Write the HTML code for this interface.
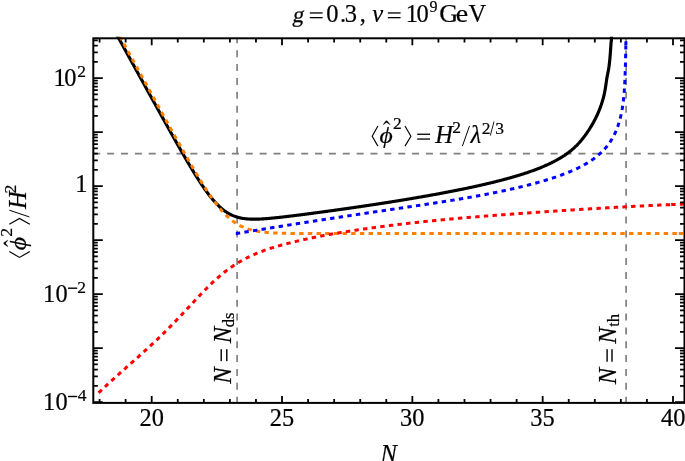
<!DOCTYPE html>
<html><head><meta charset="utf-8"><style>html,body{margin:0;padding:0;background:#fff;overflow:hidden}svg{display:block;will-change:transform}</style></head>
<body><svg width="685" height="461" viewBox="0 0 685 461">
<defs><clipPath id="cp"><rect x="93.3" y="36.699999999999996" width="591.2" height="366.2"/></clipPath></defs>
<rect width="685" height="461" fill="#fff"/>
<g clip-path="url(#cp)" fill="none">
<path d="M93.3,153.6H684.5" stroke="#808080" stroke-width="1.7" stroke-dasharray="7.0 6.86"/>
<path d="M237.1,403.7V38.3" stroke="#808080" stroke-width="1.7" stroke-dasharray="7.0 6.86"/>
<path d="M626.1,403.7V38.3" stroke="#808080" stroke-width="1.7" stroke-dasharray="7.0 6.86"/>
<path d="M112.60,27.09 L112.92,27.67 L113.25,28.26 L113.57,28.84 L113.89,29.42 L114.21,30.01 L114.53,30.59 L114.85,31.18 L115.18,31.76 L115.50,32.35 L115.82,32.93 L116.14,33.51 L116.46,34.10 L116.78,34.68 L117.10,35.27 L117.43,35.85 L117.75,36.44 L118.07,37.02 L118.39,37.60 L118.71,38.19 L119.03,38.77 L119.36,39.36 L119.68,39.94 L120.00,40.53 L120.32,41.11 L120.64,41.69 L120.96,42.28 L121.29,42.86 L121.61,43.45 L121.93,44.03 L122.25,44.62 L122.57,45.20 L122.89,45.78 L123.21,46.37 L123.54,46.95 L123.86,47.54 L124.18,48.12 L124.50,48.70 L124.82,49.29 L125.14,49.87 L125.47,50.46 L125.79,51.04 L126.11,51.63 L126.43,52.21 L126.75,52.79 L127.07,53.38 L127.39,53.96 L127.72,54.55 L128.04,55.13 L128.36,55.71 L128.68,56.30 L129.00,56.88 L129.32,57.47 L129.65,58.05 L129.97,58.63 L130.29,59.22 L130.61,59.80 L130.93,60.39 L131.25,60.97 L131.58,61.55 L131.90,62.14 L132.22,62.72 L132.54,63.31 L132.86,63.89 L133.18,64.47 L133.50,65.06 L133.83,65.64 L134.15,66.22 L134.47,66.81 L134.79,67.39 L135.11,67.98 L135.43,68.56 L135.76,69.14 L136.08,69.73 L136.40,70.31 L136.72,70.89 L137.04,71.48 L137.36,72.06 L137.69,72.65 L138.01,73.23 L138.33,73.81 L138.65,74.40 L138.97,74.98 L139.29,75.56 L139.61,76.15 L139.94,76.73 L140.26,77.31 L140.58,77.90 L140.90,78.48 L141.22,79.06 L141.54,79.65 L141.87,80.23 L142.19,80.81 L142.51,81.40 L142.83,81.98 L143.15,82.56 L143.47,83.15 L143.80,83.73 L144.12,84.31 L144.44,84.90 L144.76,85.48 L145.08,86.06 L145.40,86.65 L145.72,87.23 L146.05,87.81 L146.37,88.40 L146.69,88.98 L147.01,89.56 L147.33,90.14 L147.65,90.73 L147.98,91.31 L148.30,91.89 L148.62,92.47 L148.94,93.06 L149.26,93.64 L149.58,94.22 L149.91,94.80 L150.23,95.39 L150.55,95.97 L150.87,96.55 L151.19,97.13 L151.51,97.72 L151.83,98.30 L152.16,98.88 L152.48,99.46 L152.80,100.04 L153.12,100.63 L153.44,101.21 L153.76,101.79 L154.09,102.37 L154.41,102.95 L154.73,103.53 L155.05,104.11 L155.37,104.70 L155.69,105.28 L156.02,105.86 L156.34,106.44 L156.66,107.02 L156.98,107.60 L157.30,108.18 L157.62,108.76 L157.94,109.34 L158.27,109.92 L158.59,110.50 L158.91,111.09 L159.23,111.67 L159.55,112.25 L159.87,112.83 L160.20,113.41 L160.52,113.99 L160.84,114.57 L161.16,115.14 L161.48,115.72 L161.80,116.30 L162.13,116.88 L162.45,117.46 L162.77,118.04 L163.09,118.62 L163.41,119.20 L163.73,119.78 L164.05,120.36 L164.38,120.93 L164.70,121.51 L165.02,122.09 L165.34,122.67 L165.66,123.24 L165.98,123.82 L166.31,124.40 L166.63,124.98 L166.95,125.55 L167.27,126.13 L167.59,126.71 L167.91,127.28 L168.24,127.86 L168.56,128.43 L168.88,129.01 L169.20,129.58 L169.52,130.16 L169.84,130.74 L170.16,131.31 L170.49,131.88 L170.81,132.46 L171.13,133.03 L171.45,133.61 L171.77,134.18 L172.09,134.75 L172.42,135.33 L172.74,135.90 L173.06,136.47 L173.38,137.04 L173.70,137.61 L174.02,138.18 L174.35,138.76 L174.67,139.33 L174.99,139.90 L175.31,140.47 L175.63,141.04 L175.95,141.60 L176.27,142.17 L176.60,142.74 L176.92,143.31 L177.24,143.88 L177.56,144.44 L177.88,145.01 L178.20,145.58 L178.53,146.14 L178.85,146.71 L179.17,147.27 L179.49,147.84 L179.81,148.40 L180.13,148.96 L180.45,149.53 L180.78,150.09 L181.10,150.65 L181.42,151.21 L181.74,151.77 L182.06,152.33 L182.38,152.89 L182.71,153.45 L183.03,154.01 L183.35,154.57 L183.67,155.12 L183.99,155.68 L184.31,156.24 L184.64,156.79 L184.96,157.34 L185.28,157.90 L185.60,158.45 L185.92,159.00 L186.24,159.55 L186.56,160.10 L186.89,160.65 L187.21,161.20 L187.53,161.75 L187.85,162.29 L188.17,162.84 L188.49,163.38 L188.82,163.93 L189.14,164.47 L189.46,165.01 L189.78,165.55 L190.10,166.09 L190.42,166.63 L190.75,167.17 L191.07,167.70 L191.39,168.24 L191.71,168.77 L192.03,169.30 L192.35,169.84 L192.67,170.37 L193.00,170.90 L193.32,171.42 L193.64,171.95 L193.96,172.47 L194.28,173.00 L194.60,173.52 L194.93,174.04 L195.25,174.56 L195.57,175.08 L195.89,175.59 L196.21,176.11 L196.53,176.62 L196.86,177.13 L197.18,177.64 L197.50,178.15 L197.98,178.90 L198.46,179.66 L198.95,180.41 L199.43,181.15 L199.91,181.89 L200.39,182.63 L200.87,183.36 L201.36,184.09 L201.84,184.81 L202.32,185.53 L202.80,186.24 L203.29,186.95 L203.77,187.65 L204.25,188.34 L204.73,189.03 L205.22,189.71 L205.70,190.39 L206.18,191.06 L206.66,191.73 L207.15,192.38 L207.63,193.04 L208.11,193.68 L208.59,194.32 L209.08,194.95 L209.56,195.57 L210.04,196.19 L210.52,196.80 L211.00,197.40 L211.49,197.99 L211.97,198.58 L212.45,199.16 L212.93,199.73 L213.42,200.29 L213.90,200.84 L214.38,201.39 L214.86,201.93 L215.35,202.45 L215.83,202.97 L216.31,203.48 L216.79,203.99 L217.28,204.48 L217.76,204.96 L218.24,205.44 L218.72,205.91 L219.20,206.36 L219.69,206.81 L220.17,207.25 L220.65,207.68 L221.13,208.10 L221.62,208.51 L222.10,208.91 L222.58,209.31 L223.06,209.69 L223.55,210.06 L224.03,210.43 L224.67,210.90 L225.31,211.36 L225.96,211.80 L226.60,212.22 L227.24,212.63 L227.89,213.02 L228.53,213.40 L229.17,213.76 L229.82,214.11 L230.46,214.44 L231.10,214.76 L231.75,215.06 L232.39,215.35 L233.03,215.63 L233.68,215.89 L234.32,216.14 L234.96,216.38 L235.61,216.61 L236.25,216.82 L236.89,217.02 L237.53,217.21 L238.18,217.39 L238.82,217.55 L239.46,217.71 L240.11,217.86 L240.75,218.00 L241.39,218.13 L242.04,218.24 L242.68,218.36 L243.32,218.46 L243.97,218.55 L244.61,218.64 L245.25,218.72 L245.90,218.79 L246.54,218.85 L247.18,218.91 L247.83,218.96 L248.47,219.01 L249.11,219.05 L249.75,219.08 L250.40,219.11 L251.04,219.13 L251.68,219.15 L252.33,219.16 L252.97,219.17 L253.61,219.18 L254.26,219.18 L254.90,219.18 L255.54,219.17 L256.19,219.16 L256.83,219.14 L257.47,219.13 L258.12,219.11 L258.76,219.08 L259.40,219.06 L260.04,219.03 L260.69,219.00 L261.33,218.97 L261.97,218.93 L262.62,218.89 L263.26,218.85 L263.90,218.81 L264.55,218.77 L265.19,218.72 L265.83,218.67 L266.48,218.62 L267.12,218.57 L267.76,218.52 L268.41,218.47 L269.05,218.41 L269.69,218.35 L270.34,218.30 L270.98,218.24 L271.62,218.18 L272.26,218.12 L272.91,218.05 L273.55,217.99 L274.19,217.93 L274.84,217.86 L275.48,217.79 L276.12,217.73 L276.77,217.66 L277.41,217.59 L278.05,217.52 L278.70,217.45 L279.34,217.38 L279.98,217.31 L280.63,217.24 L281.27,217.17 L281.91,217.09 L282.56,217.02 L283.20,216.95 L283.84,216.87 L284.48,216.80 L285.13,216.72 L285.77,216.65 L286.41,216.57 L287.06,216.50 L287.70,216.42 L288.34,216.34 L288.99,216.26 L289.63,216.19 L290.27,216.11 L290.92,216.03 L291.56,215.95 L292.20,215.87 L292.85,215.79 L293.49,215.71 L294.13,215.63 L294.78,215.55 L295.42,215.47 L296.06,215.39 L296.70,215.31 L297.35,215.23 L297.99,215.15 L298.63,215.07 L299.28,214.99 L299.92,214.90 L300.56,214.82 L301.21,214.74 L301.85,214.66 L302.49,214.58 L303.14,214.49 L303.78,214.41 L304.42,214.33 L305.07,214.24 L305.71,214.16 L306.35,214.08 L306.99,213.99 L307.64,213.91 L308.28,213.82 L308.92,213.74 L309.57,213.66 L310.21,213.57 L310.85,213.49 L311.50,213.40 L312.14,213.32 L312.78,213.23 L313.43,213.15 L314.07,213.06 L314.71,212.98 L315.36,212.89 L316.00,212.80 L316.64,212.72 L317.29,212.63 L317.93,212.55 L318.57,212.46 L319.21,212.37 L319.86,212.29 L320.50,212.20 L321.14,212.11 L321.79,212.03 L322.43,211.94 L323.07,211.85 L323.72,211.76 L324.36,211.68 L325.00,211.59 L325.65,211.50 L326.29,211.41 L326.93,211.33 L327.58,211.24 L328.22,211.15 L328.86,211.06 L329.51,210.97 L330.15,210.89 L330.79,210.80 L331.43,210.71 L332.08,210.62 L332.72,210.53 L333.36,210.44 L334.01,210.35 L334.65,210.26 L335.29,210.17 L335.94,210.08 L336.58,209.99 L337.22,209.90 L337.87,209.81 L338.51,209.72 L339.15,209.63 L339.80,209.54 L340.44,209.45 L341.08,209.36 L341.73,209.27 L342.37,209.18 L343.01,209.09 L343.65,209.00 L344.30,208.91 L344.94,208.82 L345.58,208.72 L346.23,208.63 L346.87,208.54 L347.51,208.45 L348.16,208.36 L348.80,208.26 L349.44,208.17 L350.09,208.08 L350.73,207.99 L351.37,207.90 L352.02,207.80 L352.66,207.71 L353.30,207.62 L353.94,207.52 L354.59,207.43 L355.23,207.34 L355.87,207.24 L356.52,207.15 L357.16,207.06 L357.80,206.96 L358.45,206.87 L359.09,206.77 L359.73,206.68 L360.38,206.58 L361.02,206.49 L361.66,206.39 L362.31,206.30 L362.95,206.20 L363.59,206.11 L364.24,206.01 L364.88,205.92 L365.52,205.82 L366.16,205.73 L366.81,205.63 L367.45,205.53 L368.09,205.44 L368.74,205.34 L369.38,205.25 L370.02,205.15 L370.67,205.05 L371.31,204.95 L371.95,204.86 L372.60,204.76 L373.24,204.66 L373.88,204.56 L374.53,204.47 L375.17,204.37 L375.81,204.27 L376.46,204.17 L377.10,204.07 L377.74,203.98 L378.38,203.88 L379.03,203.78 L379.67,203.68 L380.31,203.58 L380.96,203.48 L381.60,203.38 L382.24,203.28 L382.89,203.18 L383.53,203.08 L384.17,202.98 L384.82,202.88 L385.46,202.78 L386.10,202.68 L386.75,202.58 L387.39,202.48 L388.03,202.38 L388.68,202.27 L389.32,202.17 L389.96,202.07 L390.60,201.97 L391.25,201.87 L391.89,201.77 L392.53,201.66 L393.18,201.56 L393.82,201.46 L394.46,201.35 L395.11,201.25 L395.75,201.15 L396.39,201.04 L397.04,200.94 L397.68,200.84 L398.32,200.73 L398.97,200.63 L399.61,200.52 L400.25,200.42 L400.89,200.31 L401.54,200.21 L402.18,200.10 L402.82,200.00 L403.47,199.89 L404.11,199.79 L404.75,199.68 L405.40,199.57 L406.04,199.47 L406.68,199.36 L407.33,199.25 L407.97,199.15 L408.61,199.04 L409.26,198.93 L409.90,198.82 L410.54,198.72 L411.19,198.61 L411.83,198.50 L412.47,198.39 L413.11,198.28 L413.76,198.17 L414.40,198.06 L415.04,197.96 L415.69,197.85 L416.33,197.74 L416.97,197.63 L417.62,197.52 L418.26,197.40 L418.90,197.29 L419.55,197.18 L420.19,197.07 L420.83,196.96 L421.48,196.85 L422.12,196.74 L422.76,196.62 L423.41,196.51 L424.05,196.40 L424.69,196.29 L425.33,196.17 L425.98,196.06 L426.62,195.95 L427.26,195.83 L427.91,195.72 L428.55,195.60 L429.19,195.49 L429.84,195.37 L430.48,195.26 L431.12,195.14 L431.77,195.03 L432.41,194.91 L433.05,194.79 L433.70,194.68 L434.34,194.56 L434.98,194.44 L435.63,194.33 L436.27,194.21 L436.91,194.09 L437.55,193.97 L438.20,193.85 L438.84,193.73 L439.48,193.62 L440.13,193.50 L440.77,193.38 L441.41,193.26 L442.06,193.14 L442.70,193.02 L443.34,192.89 L443.99,192.77 L444.63,192.65 L445.27,192.53 L445.92,192.41 L446.56,192.28 L447.20,192.16 L447.84,192.04 L448.49,191.92 L449.13,191.79 L449.77,191.67 L450.42,191.54 L451.06,191.42 L451.70,191.29 L452.35,191.17 L452.99,191.04 L453.63,190.91 L454.28,190.79 L454.92,190.66 L455.56,190.53 L456.21,190.41 L456.85,190.28 L457.49,190.15 L458.14,190.02 L458.78,189.89 L459.42,189.76 L460.06,189.63 L460.71,189.50 L461.35,189.37 L461.99,189.24 L462.64,189.11 L463.28,188.97 L463.92,188.84 L464.57,188.71 L465.21,188.57 L465.85,188.44 L466.50,188.31 L467.14,188.17 L467.78,188.04 L468.43,187.90 L469.07,187.76 L469.71,187.63 L470.36,187.49 L471.00,187.35 L471.64,187.22 L472.28,187.08 L472.93,186.94 L473.57,186.80 L474.21,186.66 L474.86,186.52 L475.50,186.38 L476.14,186.24 L476.79,186.09 L477.43,185.95 L478.07,185.81 L478.72,185.66 L479.36,185.52 L480.00,185.38 L480.65,185.23 L481.29,185.08 L481.93,184.94 L482.58,184.79 L483.22,184.64 L483.86,184.50 L484.50,184.35 L485.15,184.20 L485.79,184.05 L486.43,183.90 L487.08,183.75 L487.72,183.59 L488.36,183.44 L489.01,183.29 L489.65,183.13 L490.29,182.98 L490.94,182.83 L491.58,182.67 L492.22,182.51 L492.87,182.36 L493.51,182.20 L494.15,182.04 L494.80,181.88 L495.44,181.72 L496.08,181.56 L496.72,181.40 L497.37,181.23 L498.01,181.07 L498.65,180.91 L499.30,180.74 L499.94,180.58 L500.58,180.41 L501.23,180.24 L501.87,180.07 L502.51,179.90 L503.16,179.73 L503.80,179.56 L504.44,179.39 L505.09,179.22 L505.73,179.05 L506.37,178.87 L507.01,178.70 L507.66,178.52 L508.30,178.34 L508.94,178.16 L509.59,177.98 L510.23,177.80 L510.87,177.62 L511.52,177.44 L512.16,177.25 L512.80,177.07 L513.45,176.88 L514.09,176.70 L514.73,176.51 L515.38,176.32 L516.02,176.13 L516.66,175.93 L517.31,175.74 L517.95,175.55 L518.59,175.35 L519.23,175.15 L519.88,174.95 L520.52,174.75 L521.16,174.55 L521.81,174.35 L522.45,174.15 L523.09,173.94 L523.74,173.73 L524.38,173.52 L525.02,173.31 L525.67,173.10 L526.31,172.89 L526.95,172.67 L527.60,172.46 L528.24,172.24 L528.88,172.02 L529.53,171.79 L530.17,171.57 L530.81,171.35 L531.45,171.12 L532.10,170.89 L532.74,170.66 L533.38,170.42 L534.03,170.19 L534.67,169.95 L535.31,169.71 L535.96,169.47 L536.60,169.22 L537.24,168.98 L537.89,168.73 L538.53,168.48 L539.17,168.22 L539.82,167.96 L540.46,167.71 L541.10,167.44 L541.75,167.18 L542.39,166.91 L543.03,166.64 L543.67,166.37 L544.32,166.09 L544.96,165.81 L545.60,165.53 L546.25,165.25 L546.89,164.96 L547.53,164.67 L548.18,164.37 L548.82,164.07 L549.46,163.77 L550.11,163.46 L550.75,163.15 L551.39,162.84 L552.04,162.52 L552.68,162.20 L553.32,161.87 L553.96,161.54 L554.61,161.21 L555.25,160.87 L555.89,160.52 L556.54,160.17 L557.18,159.81 L557.82,159.45 L558.47,159.09 L559.11,158.72 L559.75,158.34 L560.40,157.96 L561.04,157.57 L561.68,157.17 L562.33,156.77 L562.97,156.36 L563.61,155.94 L564.26,155.52 L564.90,155.08 L565.54,154.64 L566.18,154.20 L566.83,153.74 L567.47,153.27 L568.11,152.80 L568.60,152.44 L569.08,152.07 L569.56,151.70 L570.04,151.32 L570.53,150.93 L571.01,150.54 L571.49,150.15 L571.97,149.74 L572.46,149.33 L572.94,148.91 L573.42,148.49 L573.90,148.05 L574.38,147.61 L574.87,147.16 L575.35,146.71 L575.83,146.24 L576.31,145.77 L576.80,145.29 L577.28,144.79 L577.76,144.29 L578.24,143.78 L578.73,143.27 L579.21,142.74 L579.69,142.20 L580.17,141.65 L580.66,141.09 L581.14,140.53 L581.62,139.95 L582.10,139.36 L582.59,138.76 L583.07,138.16 L583.55,137.54 L584.03,136.91 L584.51,136.27 L585.00,135.62 L585.48,134.95 L585.96,134.28 L586.44,133.60 L586.93,132.90 L587.41,132.19 L587.89,131.48 L588.37,130.75 L588.86,130.01 L589.34,129.26 L589.82,128.50 L590.14,127.98 L590.46,127.46 L590.79,126.94 L591.11,126.41 L591.43,125.87 L591.75,125.33 L592.07,124.78 L592.39,124.22 L592.71,123.66 L593.04,123.09 L593.36,122.51 L593.68,121.93 L594.00,121.34 L594.32,120.74 L594.64,120.13 L594.93,119.57 L595.24,118.96 L595.55,118.36 L595.85,117.75 L596.15,117.15 L596.44,116.54 L596.73,115.94 L597.01,115.35 L597.28,114.75 L597.55,114.15 L597.82,113.56 L598.08,112.97 L598.33,112.37 L598.58,111.78 L598.83,111.19 L599.07,110.60 L599.31,110.02 L599.54,109.43 L599.77,108.84 L599.99,108.26 L600.21,107.67 L600.43,107.08 L600.64,106.50 L600.85,105.91 L601.05,105.33 L601.26,104.74 L601.45,104.15 L601.65,103.57 L601.84,102.98 L602.02,102.39 L602.21,101.80 L602.39,101.22 L602.56,100.63 L602.73,100.04 L602.90,99.44 L603.07,98.85 L603.24,98.26 L603.40,97.66 L603.55,97.06 L603.71,96.45 L603.86,95.83 L604.01,95.21 L604.16,94.57 L604.30,93.93 L604.44,93.27 L604.58,92.60 L604.72,91.91 L604.85,91.21 L604.98,90.49 L605.11,89.75 L605.21,89.15 L605.31,88.54 L605.41,87.92 L605.51,87.29 L605.60,86.67 L605.70,86.04 L605.79,85.41 L605.88,84.79 L605.97,84.17 L606.06,83.56 L606.15,82.95 L606.23,82.36 L606.34,81.63 L606.44,80.93 L606.55,80.25 L606.65,79.60 L606.74,78.98 L606.86,78.27 L606.97,77.61 L607.08,76.98 L607.19,76.38 L607.31,75.73 L607.43,75.11 L607.55,74.52 L607.68,73.88 L607.81,73.27 L607.93,72.68 L608.06,72.03 L608.19,71.40 L608.32,70.76 L608.44,70.12 L608.56,69.46 L608.66,68.86 L608.75,68.25 L608.85,67.63 L608.94,66.99 L609.03,66.35 L609.12,65.71 L609.20,65.05 L609.28,64.39 L609.36,63.72 L609.44,63.05 L609.51,62.37 L609.59,61.69 L609.65,61.09 L609.71,60.49 L609.77,59.90 L609.83,59.30 L609.88,58.70 L609.94,58.10 L609.99,57.50 L610.05,56.82 L610.11,56.14 L610.16,55.47 L610.21,54.80 L610.27,54.13 L610.32,53.48 L610.37,52.83 L610.41,52.18 L610.46,51.55 L610.51,50.92 L610.55,50.31 L610.59,49.71 L610.64,49.04 L610.68,48.39 L610.73,47.76 L610.77,47.15 L610.81,46.49 L610.86,45.85 L610.90,45.25 L610.94,44.61 L610.99,43.96 L611.03,43.36 L611.08,42.76 L611.13,42.15 L611.19,41.52 L611.25,40.92 L611.41,40.31 L611.43,39.68 L611.44,39.06 L611.46,38.43 L611.48,37.81 L611.50,37.18 L611.51,36.56 L611.53,35.93 L611.55,35.31 L611.56,34.68 L611.58,34.06 L611.59,33.43 L611.60,32.81 L611.62,32.18 L611.63,31.56 L611.64,30.94 L611.65,30.31 L611.67,29.69 L611.68,29.06 L611.69,28.44 L611.70,27.81 L611.71,27.19 L611.72,26.56 L611.73,25.94 L611.74,25.31 L611.75,24.69 L611.75,24.06 L611.76,23.44 L611.77,22.81 L611.78,22.19 L611.79,21.56 L611.79,20.94 L611.80,20.31 L611.80,19.97" stroke="#000" stroke-width="3.15" stroke-linejoin="round"/>
<path d="M115.21,28.04 L115.64,28.82 L116.07,29.60 L116.49,30.38 L116.92,31.15 L117.35,31.93 L117.78,32.71 L118.21,33.49 L118.63,34.27 L119.06,35.04 L119.49,35.82 L119.92,36.60 L120.35,37.38 L120.78,38.16 L121.20,38.93 L121.63,39.71 L122.06,40.49 L122.49,41.27 L122.92,42.05 L123.35,42.83 L123.77,43.60 L124.20,44.38 L124.63,45.16 L125.06,45.94 L125.49,46.72 L125.91,47.49 L126.34,48.27 L126.77,49.05 L127.20,49.83 L127.63,50.61 L128.06,51.38 L128.48,52.16 L128.91,52.94 L129.34,53.72 L129.77,54.50 L130.20,55.27 L130.63,56.05 L131.05,56.83 L131.48,57.61 L131.91,58.38 L132.34,59.16 L132.77,59.94 L133.19,60.72 L133.62,61.50 L134.05,62.27 L134.48,63.05 L134.91,63.83 L135.34,64.61 L135.76,65.38 L136.19,66.16 L136.62,66.94 L137.05,67.72 L137.48,68.50 L137.90,69.27 L138.33,70.05 L138.76,70.83 L139.19,71.61 L139.62,72.38 L140.05,73.16 L140.47,73.94 L140.90,74.72 L141.33,75.49 L141.76,76.27 L142.19,77.05 L142.62,77.82 L143.04,78.60 L143.47,79.38 L143.90,80.16 L144.33,80.93 L144.76,81.71 L145.18,82.49 L145.61,83.26 L146.04,84.04 L146.47,84.82 L146.90,85.60 L147.33,86.37 L147.75,87.15 L148.18,87.93 L148.61,88.70 L149.04,89.48 L149.47,90.26 L149.90,91.03 L150.32,91.81 L150.75,92.59 L151.18,93.36 L151.61,94.14 L152.04,94.91 L152.46,95.69 L152.89,96.47 L153.32,97.24 L153.75,98.02 L154.18,98.79 L154.61,99.57 L155.03,100.35 L155.46,101.12 L155.89,101.90 L156.32,102.67 L156.75,103.45 L157.18,104.22 L157.60,105.00 L158.03,105.77 L158.46,106.55 L158.89,107.32 L159.32,108.10 L159.74,108.87 L160.17,109.65 L160.60,110.42 L161.03,111.19 L161.46,111.97 L161.89,112.74 L162.31,113.52 L162.74,114.29 L163.17,115.06 L163.60,115.84 L164.03,116.61 L164.45,117.38 L164.88,118.16 L165.31,118.93 L165.74,119.70 L166.17,120.47 L166.60,121.24 L167.02,122.02 L167.45,122.79 L167.88,123.56 L168.31,124.33 L168.74,125.10 L169.17,125.87 L169.59,126.64 L170.02,127.41 L170.45,128.18 L170.88,128.95 L171.31,129.72 L171.73,130.49 L172.16,131.26 L172.59,132.03 L173.02,132.79 L173.45,133.56 L173.88,134.33 L174.30,135.09 L174.73,135.86 L175.16,136.63 L175.59,137.39 L176.02,138.16 L176.45,138.92 L176.87,139.69 L177.30,140.45 L177.73,141.21 L178.16,141.98 L178.59,142.74 L179.01,143.50 L179.44,144.26 L179.87,145.02 L180.30,145.78 L180.73,146.54 L181.16,147.30 L181.58,148.06 L182.01,148.82 L182.44,149.58 L182.87,150.33 L183.30,151.09 L183.72,151.84 L184.15,152.60 L184.58,153.35 L185.01,154.10 L185.44,154.85 L185.87,155.60 L186.29,156.35 L186.72,157.10 L187.15,157.85 L187.58,158.60 L188.01,159.34 L188.44,160.09 L188.86,160.83 L189.29,161.58 L189.72,162.32 L190.15,163.06 L190.58,163.80 L191.00,164.54 L191.43,165.27 L191.86,166.01 L192.29,166.74 L192.72,167.47 L193.15,168.21 L193.57,168.93 L194.00,169.66 L194.43,170.39 L194.86,171.11 L195.29,171.84 L195.72,172.56 L196.14,173.28 L196.57,174.00 L197.00,174.71 L197.43,175.43 L197.86,176.14 L198.28,176.85 L198.71,177.56 L199.14,178.26 L199.57,178.97 L200.00,179.67 L200.43,180.37 L200.85,181.06 L201.28,181.76 L201.71,182.45 L202.14,183.14 L202.57,183.83 L203.00,184.51 L203.42,185.19 L203.85,185.87 L204.28,186.54 L204.71,187.22 L205.14,187.88 L205.56,188.55 L205.99,189.21 L206.42,189.87 L206.85,190.53 L207.28,191.18 L207.71,191.83 L208.13,192.48 L208.56,193.12 L208.99,193.75 L209.42,194.39 L209.85,195.02 L210.27,195.65 L210.70,196.27 L211.13,196.88 L211.56,197.50 L211.99,198.11 L212.42,198.71 L212.84,199.31 L213.27,199.91 L213.70,200.50 L214.13,201.09 L214.56,201.67 L214.99,202.24 L215.41,202.81 L215.84,203.38 L216.27,203.94 L216.70,204.50 L217.13,205.05 L217.55,205.59 L217.98,206.13 L218.41,206.67 L218.84,207.20 L219.27,207.72 L219.70,208.24 L220.12,208.75 L220.55,209.25 L220.98,209.75 L221.41,210.25 L221.84,210.73 L222.27,211.22 L222.69,211.69 L223.12,212.16 L223.55,212.62 L223.98,213.08 L224.41,213.53 L224.83,213.98 L225.26,214.41 L225.69,214.85 L226.12,215.27 L226.69,215.83 L227.26,216.37 L227.83,216.91 L228.40,217.43 L228.97,217.94 L229.54,218.44 L230.12,218.93 L230.69,219.41 L231.26,219.87 L231.83,220.33 L232.40,220.77 L232.97,221.20 L233.54,221.62 L234.11,222.03 L234.68,222.43 L235.25,222.82 L235.83,223.20 L236.40,223.56 L236.97,223.92 L237.54,224.26 L238.11,224.60 L238.68,224.93 L239.25,225.24 L239.82,225.55 L240.39,225.84 L240.96,226.13 L241.54,226.41 L242.11,226.68 L242.68,226.94 L243.25,227.19 L243.82,227.44 L244.39,227.67 L244.96,227.90 L245.53,228.12 L246.10,228.33 L246.67,228.54 L247.24,228.74 L247.82,228.93 L248.53,229.16 L249.24,229.38 L249.96,229.58 L250.67,229.78 L251.38,229.97 L252.10,230.16 L252.81,230.33 L253.53,230.49 L254.24,230.65 L254.95,230.80 L255.67,230.94 L256.38,231.08 L257.09,231.21 L257.81,231.33 L258.52,231.45 L259.24,231.56 L259.95,231.66 L260.66,231.76 L261.38,231.86 L262.09,231.95 L262.80,232.04 L263.52,232.12 L264.23,232.19 L264.94,232.27 L265.66,232.34 L266.37,232.40 L267.09,232.47 L267.80,232.53 L268.51,232.58 L269.23,232.64 L269.94,232.69 L270.65,232.74 L271.37,232.78 L272.08,232.82 L272.80,232.87 L273.51,232.90 L274.22,232.94 L274.94,232.98 L275.65,233.01 L276.36,233.04 L277.08,233.07 L277.79,233.10 L278.51,233.13 L279.22,233.15 L279.93,233.18 L280.65,233.20 L281.36,233.22 L282.07,233.24 L282.79,233.26 L283.50,233.28 L284.22,233.29 L284.93,233.31 L285.64,233.33 L286.36,233.34 L287.07,233.35 L287.78,233.37 L288.50,233.38 L289.21,233.39 L289.92,233.40 L290.64,233.41 L291.35,233.42 L292.07,233.43 L292.78,233.44 L293.49,233.45 L294.21,233.46 L294.92,233.47 L295.63,233.47 L296.35,233.48 L297.06,233.49 L297.78,233.49 L298.49,233.50 L299.20,233.50 L299.92,233.51 L300.63,233.51 L301.34,233.52 L302.06,233.52 L302.77,233.53 L303.49,233.53 L304.20,233.53 L304.91,233.54 L305.63,233.54 L306.34,233.54 L307.05,233.55 L307.77,233.55 L308.48,233.55 L309.19,233.56 L309.91,233.56 L310.62,233.56 L311.34,233.56 L312.05,233.56 L312.76,233.57 L313.48,233.57 L314.19,233.57 L314.90,233.57 L315.62,233.57 L316.33,233.57 L317.05,233.58 L317.76,233.58 L318.47,233.58 L319.19,233.58 L319.90,233.58 L320.61,233.58 L321.33,233.58 L322.04,233.58 L322.76,233.58 L323.47,233.59 L324.18,233.59 L324.90,233.59 L325.61,233.59 L326.32,233.59 L327.04,233.59 L327.75,233.59 L328.46,233.59 L329.18,233.59 L329.89,233.59 L330.61,233.59 L331.32,233.59 L332.03,233.59 L332.75,233.59 L333.46,233.59 L334.17,233.59 L334.89,233.59 L335.60,233.59 L336.32,233.59 L337.03,233.60 L337.74,233.60 L338.46,233.60 L339.17,233.60 L339.88,233.60 L340.60,233.60 L341.31,233.60 L342.03,233.60 L342.74,233.60 L343.45,233.60 L344.17,233.60 L344.88,233.60 L345.59,233.60 L346.31,233.60 L347.02,233.60 L347.74,233.60 L348.45,233.60 L349.16,233.60 L349.88,233.60 L350.59,233.60 L351.30,233.60 L352.02,233.60 L352.73,233.60 L353.44,233.60 L354.16,233.60 L354.87,233.60 L355.59,233.60 L356.30,233.60 L357.01,233.60 L357.73,233.60 L358.44,233.60 L359.15,233.60 L359.87,233.60 L360.58,233.60 L361.30,233.60 L362.01,233.60 L362.72,233.60 L363.44,233.60 L364.15,233.60 L364.86,233.60 L365.58,233.60 L366.29,233.60 L367.01,233.60 L367.72,233.60 L368.43,233.60 L369.15,233.60 L369.86,233.60 L370.57,233.60 L371.29,233.60 L372.00,233.60 L372.71,233.60 L373.43,233.60 L374.14,233.60 L374.86,233.60 L375.57,233.60 L376.28,233.60 L377.00,233.60 L377.71,233.60 L378.42,233.60 L379.14,233.60 L379.85,233.60 L380.57,233.60 L381.28,233.60 L381.99,233.60 L382.71,233.60 L383.42,233.60 L384.13,233.60 L384.85,233.60 L385.56,233.60 L386.28,233.60 L386.99,233.60 L387.70,233.60 L388.42,233.60 L389.13,233.60 L389.84,233.60 L390.56,233.60 L391.27,233.60 L391.98,233.60 L392.70,233.60 L393.41,233.60 L394.13,233.60 L394.84,233.60 L395.55,233.60 L396.27,233.60 L396.98,233.60 L397.69,233.60 L398.41,233.60 L399.12,233.60 L399.84,233.60 L400.55,233.60 L401.26,233.60 L401.98,233.60 L402.69,233.60 L403.40,233.60 L404.12,233.60 L404.83,233.60 L405.55,233.60 L406.26,233.60 L406.97,233.60 L407.69,233.60 L408.40,233.60 L409.11,233.60 L409.83,233.60 L410.54,233.60 L411.25,233.60 L411.97,233.60 L412.68,233.60 L413.40,233.60 L414.11,233.60 L414.82,233.60 L415.54,233.60 L416.25,233.60 L416.96,233.60 L417.68,233.60 L418.39,233.60 L419.11,233.60 L419.82,233.60 L420.53,233.60 L421.25,233.60 L421.96,233.60 L422.67,233.60 L423.39,233.60 L424.10,233.60 L424.82,233.60 L425.53,233.60 L426.24,233.60 L426.96,233.60 L427.67,233.60 L428.38,233.60 L429.10,233.60 L429.81,233.60 L430.53,233.60 L431.24,233.60 L431.95,233.60 L432.67,233.60 L433.38,233.60 L434.09,233.60 L434.81,233.60 L435.52,233.60 L436.23,233.60 L436.95,233.60 L437.66,233.60 L438.38,233.60 L439.09,233.60 L439.80,233.60 L440.52,233.60 L441.23,233.60 L441.94,233.60 L442.66,233.60 L443.37,233.60 L444.09,233.60 L444.80,233.60 L445.51,233.60 L446.23,233.60 L446.94,233.60 L447.65,233.60 L448.37,233.60 L449.08,233.60 L449.80,233.60 L450.51,233.60 L451.22,233.60 L451.94,233.60 L452.65,233.60 L453.36,233.60 L454.08,233.60 L454.79,233.60 L455.50,233.60 L456.22,233.60 L456.93,233.60 L457.65,233.60 L458.36,233.60 L459.07,233.60 L459.79,233.60 L460.50,233.60 L461.21,233.60 L461.93,233.60 L462.64,233.60 L463.36,233.60 L464.07,233.60 L464.78,233.60 L465.50,233.60 L466.21,233.60 L466.92,233.60 L467.64,233.60 L468.35,233.60 L469.07,233.60 L469.78,233.60 L470.49,233.60 L471.21,233.60 L471.92,233.60 L472.63,233.60 L473.35,233.60 L474.06,233.60 L474.77,233.60 L475.49,233.60 L476.20,233.60 L476.92,233.60 L477.63,233.60 L478.34,233.60 L479.06,233.60 L479.77,233.60 L480.48,233.60 L481.20,233.60 L481.91,233.60 L482.63,233.60 L483.34,233.60 L484.05,233.60 L484.77,233.60 L485.48,233.60 L486.19,233.60 L486.91,233.60 L487.62,233.60 L488.34,233.60 L489.05,233.60 L489.76,233.60 L490.48,233.60 L491.19,233.60 L491.90,233.60 L492.62,233.60 L493.33,233.60 L494.05,233.60 L494.76,233.60 L495.47,233.60 L496.19,233.60 L496.90,233.60 L497.61,233.60 L498.33,233.60 L499.04,233.60 L499.75,233.60 L500.47,233.60 L501.18,233.60 L501.90,233.60 L502.61,233.60 L503.32,233.60 L504.04,233.60 L504.75,233.60 L505.46,233.60 L506.18,233.60 L506.89,233.60 L507.61,233.60 L508.32,233.60 L509.03,233.60 L509.75,233.60 L510.46,233.60 L511.17,233.60 L511.89,233.60 L512.60,233.60 L513.32,233.60 L514.03,233.60 L514.74,233.60 L515.46,233.60 L516.17,233.60 L516.88,233.60 L517.60,233.60 L518.31,233.60 L519.02,233.60 L519.74,233.60 L520.45,233.60 L521.17,233.60 L521.88,233.60 L522.59,233.60 L523.31,233.60 L524.02,233.60 L524.73,233.60 L525.45,233.60 L526.16,233.60 L526.88,233.60 L527.59,233.60 L528.30,233.60 L529.02,233.60 L529.73,233.60 L530.44,233.60 L531.16,233.60 L531.87,233.60 L532.59,233.60 L533.30,233.60 L534.01,233.60 L534.73,233.60 L535.44,233.60 L536.15,233.60 L536.87,233.60 L537.58,233.60 L538.29,233.60 L539.01,233.60 L539.72,233.60 L540.44,233.60 L541.15,233.60 L541.86,233.60 L542.58,233.60 L543.29,233.60 L544.00,233.60 L544.72,233.60 L545.43,233.60 L546.15,233.60 L546.86,233.60 L547.57,233.60 L548.29,233.60 L549.00,233.60 L549.71,233.60 L550.43,233.60 L551.14,233.60 L551.86,233.60 L552.57,233.60 L553.28,233.60 L554.00,233.60 L554.71,233.60 L555.42,233.60 L556.14,233.60 L556.85,233.60 L557.57,233.60 L558.28,233.60 L558.99,233.60 L559.71,233.60 L560.42,233.60 L561.13,233.60 L561.85,233.60 L562.56,233.60 L563.27,233.60 L563.99,233.60 L564.70,233.60 L565.42,233.60 L566.13,233.60 L566.84,233.60 L567.56,233.60 L568.27,233.60 L568.98,233.60 L569.70,233.60 L570.41,233.60 L571.13,233.60 L571.84,233.60 L572.55,233.60 L573.27,233.60 L573.98,233.60 L574.69,233.60 L575.41,233.60 L576.12,233.60 L576.84,233.60 L577.55,233.60 L578.26,233.60 L578.98,233.60 L579.69,233.60 L580.40,233.60 L581.12,233.60 L581.83,233.60 L582.54,233.60 L583.26,233.60 L583.97,233.60 L584.69,233.60 L585.40,233.60 L586.11,233.60 L586.83,233.60 L587.54,233.60 L588.25,233.60 L588.97,233.60 L589.68,233.60 L590.40,233.60 L591.11,233.60 L591.82,233.60 L592.54,233.60 L593.25,233.60 L593.96,233.60 L594.68,233.60 L595.39,233.60 L596.11,233.60 L596.82,233.60 L597.53,233.60 L598.25,233.60 L598.96,233.60 L599.67,233.60 L600.39,233.60 L601.10,233.60 L601.81,233.60 L602.53,233.60 L603.24,233.60 L603.96,233.60 L604.67,233.60 L605.38,233.60 L606.10,233.60 L606.81,233.60 L607.52,233.60 L608.24,233.60 L608.95,233.60 L609.67,233.60 L610.38,233.60 L611.09,233.60 L611.81,233.60 L612.52,233.60 L613.23,233.60 L613.95,233.60 L614.66,233.60 L615.38,233.60 L616.09,233.60 L616.80,233.60 L617.52,233.60 L618.23,233.60 L618.94,233.60 L619.66,233.60 L620.37,233.60 L621.09,233.60 L621.80,233.60 L622.51,233.60 L623.23,233.60 L623.94,233.60 L624.65,233.60 L625.37,233.60 L626.08,233.60 L626.79,233.60 L627.51,233.60 L628.22,233.60 L628.94,233.60 L629.65,233.60 L630.36,233.60 L631.08,233.60 L631.79,233.60 L632.50,233.60 L633.22,233.60 L633.93,233.60 L634.65,233.60 L635.36,233.60 L636.07,233.60 L636.79,233.60 L637.50,233.60 L638.21,233.60 L638.93,233.60 L639.64,233.60 L640.36,233.60 L641.07,233.60 L641.78,233.60 L642.50,233.60 L643.21,233.60 L643.92,233.60 L644.64,233.60 L645.35,233.60 L646.06,233.60 L646.78,233.60 L647.49,233.60 L648.21,233.60 L648.92,233.60 L649.63,233.60 L650.35,233.60 L651.06,233.60 L651.77,233.60 L652.49,233.60 L653.20,233.60 L653.92,233.60 L654.63,233.60 L655.34,233.60 L656.06,233.60 L656.77,233.60 L657.48,233.60 L658.20,233.60 L658.91,233.60 L659.63,233.60 L660.34,233.60 L661.05,233.60 L661.77,233.60 L662.48,233.60 L663.19,233.60 L663.91,233.60 L664.62,233.60 L665.33,233.60 L666.05,233.60 L666.76,233.60 L667.48,233.60 L668.19,233.60 L668.90,233.60 L669.62,233.60 L670.33,233.60 L671.04,233.60 L671.76,233.60 L672.47,233.60 L673.19,233.60 L673.90,233.60 L674.61,233.60 L675.33,233.60 L676.04,233.60 L676.75,233.60 L677.47,233.60 L678.18,233.60 L678.80,233.60" stroke="#FF8000" stroke-width="3.0" stroke-dasharray="4.4 4.28" stroke-dashoffset="8.21"/>
<path d="M678.80,233.60 L678.90,233.60 L679.61,233.60 L680.32,233.60 L681.04,233.60 L681.75,233.60 L682.46,233.60 L683.18,233.60 L683.89,233.60 L684.61,233.60 L685.32,233.60 L686.03,233.60" stroke="#FF8000" stroke-width="3.0" stroke-dasharray="4.4 4.28"/>
<path d="M235.80,233.12 L237.10,233.12 L237.84,233.00 L238.58,232.87 L239.33,232.75 L240.07,232.63 L240.81,232.51 L241.55,232.38 L242.29,232.26 L243.03,232.14 L243.78,232.02 L244.52,231.90 L245.26,231.77 L246.00,231.65 L246.74,231.53 L247.49,231.41 L248.23,231.29 L248.97,231.16 L249.71,231.04 L250.45,230.92 L251.20,230.80 L251.94,230.68 L252.68,230.56 L253.42,230.43 L254.16,230.31 L254.90,230.19 L255.65,230.07 L256.39,229.95 L257.13,229.83 L257.87,229.71 L258.61,229.59 L259.36,229.47 L260.10,229.35 L260.84,229.22 L261.58,229.10 L262.32,228.98 L263.06,228.86 L263.81,228.74 L264.55,228.62 L265.29,228.50 L266.03,228.38 L266.77,228.26 L267.52,228.14 L268.26,228.02 L269.00,227.90 L269.74,227.78 L270.48,227.66 L271.22,227.54 L271.97,227.42 L272.71,227.30 L273.45,227.19 L274.19,227.07 L274.93,226.95 L275.68,226.83 L276.42,226.71 L277.16,226.59 L277.90,226.47 L278.64,226.35 L279.39,226.23 L280.13,226.11 L280.87,226.00 L281.61,225.88 L282.35,225.76 L283.09,225.64 L283.84,225.52 L284.58,225.40 L285.32,225.29 L286.06,225.17 L286.80,225.05 L287.55,224.93 L288.29,224.81 L289.03,224.70 L289.77,224.58 L290.51,224.46 L291.25,224.34 L292.00,224.23 L292.74,224.11 L293.48,223.99 L294.22,223.87 L294.96,223.76 L295.71,223.64 L296.45,223.52 L297.19,223.41 L297.93,223.29 L298.67,223.17 L299.42,223.06 L300.16,222.94 L300.90,222.82 L301.64,222.71 L302.38,222.59 L303.12,222.47 L303.87,222.36 L304.61,222.24 L305.35,222.13 L306.09,222.01 L306.83,221.89 L307.58,221.78 L308.32,221.66 L309.06,221.55 L309.80,221.43 L310.54,221.32 L311.28,221.20 L312.03,221.09 L312.77,220.97 L313.51,220.85 L314.25,220.74 L314.99,220.62 L315.74,220.51 L316.48,220.39 L317.22,220.28 L317.96,220.17 L318.70,220.05 L319.44,219.94 L320.19,219.82 L320.93,219.71 L321.67,219.59 L322.41,219.48 L323.15,219.36 L323.90,219.25 L324.64,219.14 L325.38,219.02 L326.12,218.91 L326.86,218.80 L327.61,218.68 L328.35,218.57 L329.09,218.45 L329.83,218.34 L330.57,218.23 L331.31,218.11 L332.06,218.00 L332.80,217.89 L333.54,217.78 L334.28,217.66 L335.02,217.55 L335.77,217.44 L336.51,217.32 L337.25,217.21 L337.99,217.10 L338.73,216.99 L339.47,216.87 L340.22,216.76 L340.96,216.65 L341.70,216.54 L342.44,216.42 L343.18,216.31 L343.93,216.20 L344.67,216.09 L345.41,215.98 L346.15,215.86 L346.89,215.75 L347.64,215.64 L348.38,215.53 L349.12,215.42 L349.86,215.31 L350.60,215.19 L351.34,215.08 L352.09,214.97 L352.83,214.86 L353.57,214.75 L354.31,214.64 L355.05,214.53 L355.80,214.42 L356.54,214.31 L357.28,214.19 L358.02,214.08 L358.76,213.97 L359.50,213.86 L360.25,213.75 L360.99,213.64 L361.73,213.53 L362.47,213.42 L363.21,213.31 L363.96,213.20 L364.70,213.09 L365.44,212.98 L366.18,212.87 L366.92,212.76 L367.66,212.65 L368.41,212.54 L369.15,212.43 L369.89,212.32 L370.63,212.21 L371.37,212.10 L372.12,211.99 L372.86,211.88 L373.60,211.77 L374.34,211.66 L375.08,211.55 L375.83,211.44 L376.57,211.33 L377.31,211.22 L378.05,211.11 L378.79,211.00 L379.53,210.89 L380.28,210.78 L381.02,210.67 L381.76,210.57 L382.50,210.46 L383.24,210.35 L383.99,210.24 L384.73,210.13 L385.47,210.02 L386.21,209.91 L386.95,209.80 L387.69,209.69 L388.44,209.58 L389.18,209.47 L389.92,209.36 L390.66,209.26 L391.40,209.15 L392.15,209.04 L392.89,208.93 L393.63,208.82 L394.37,208.71 L395.11,208.60 L395.86,208.49 L396.60,208.38 L397.34,208.27 L398.08,208.17 L398.82,208.06 L399.56,207.95 L400.31,207.84 L401.05,207.73 L401.79,207.62 L402.53,207.51 L403.27,207.40 L404.02,207.29 L404.76,207.18 L405.50,207.07 L406.24,206.96 L406.98,206.86 L407.72,206.75 L408.47,206.64 L409.21,206.53 L409.95,206.42 L410.69,206.31 L411.43,206.20 L412.18,206.09 L412.92,205.98 L413.66,205.87 L414.40,205.76 L415.14,205.65 L415.88,205.54 L416.63,205.43 L417.37,205.32 L418.11,205.21 L418.85,205.10 L419.59,204.99 L420.34,204.88 L421.08,204.77 L421.82,204.66 L422.56,204.55 L423.30,204.43 L424.05,204.32 L424.79,204.21 L425.53,204.10 L426.27,203.99 L427.01,203.88 L427.75,203.77 L428.50,203.65 L429.24,203.54 L429.98,203.43 L430.72,203.32 L431.46,203.21 L432.21,203.09 L432.95,202.98 L433.69,202.87 L434.43,202.75 L435.17,202.64 L435.91,202.53 L436.66,202.41 L437.40,202.30 L438.14,202.18 L438.88,202.07 L439.62,201.95 L440.37,201.84 L441.11,201.72 L441.85,201.61 L442.59,201.49 L443.33,201.38 L444.08,201.26 L444.82,201.14 L445.56,201.03 L446.30,200.91 L447.04,200.79 L447.78,200.67 L448.53,200.56 L449.27,200.44 L450.01,200.32 L450.75,200.20 L451.49,200.08 L452.24,199.96 L452.98,199.84 L453.72,199.72 L454.46,199.60 L455.20,199.48 L455.94,199.35 L456.69,199.23 L457.43,199.11 L458.17,198.99 L458.91,198.86 L459.65,198.74 L460.40,198.61 L461.14,198.49 L461.88,198.36 L462.62,198.24 L463.36,198.11 L464.10,197.99 L464.85,197.86 L465.59,197.73 L466.33,197.60 L467.07,197.48 L467.81,197.35 L468.56,197.22 L469.30,197.09 L470.04,196.96 L470.78,196.83 L471.52,196.70 L472.27,196.56 L473.01,196.43 L473.75,196.30 L474.49,196.17 L475.23,196.03 L475.97,195.90 L476.72,195.76 L477.46,195.63 L478.20,195.49 L478.94,195.36 L479.68,195.22 L480.43,195.08 L481.17,194.94 L481.91,194.81 L482.65,194.67 L483.39,194.53 L484.13,194.39 L484.88,194.25 L485.62,194.11 L486.36,193.96 L487.10,193.82 L487.84,193.68 L488.59,193.53 L489.33,193.39 L490.07,193.25 L490.81,193.10 L491.55,192.95 L492.29,192.81 L493.04,192.66 L493.78,192.51 L494.52,192.36 L495.26,192.21 L496.00,192.06 L496.75,191.91 L497.49,191.76 L498.23,191.61 L498.97,191.46 L499.71,191.30 L500.46,191.15 L501.20,190.99 L501.94,190.84 L502.68,190.68 L503.42,190.52 L504.16,190.37 L504.91,190.21 L505.65,190.05 L506.39,189.89 L507.13,189.73 L507.87,189.57 L508.62,189.40 L509.36,189.24 L510.10,189.07 L510.84,188.91 L511.58,188.74 L512.32,188.58 L513.07,188.41 L513.81,188.24 L514.55,188.07 L515.29,187.90 L516.03,187.73 L516.78,187.56 L517.52,187.38 L518.26,187.21 L519.00,187.03 L519.74,186.86 L520.49,186.68 L521.23,186.50 L521.97,186.32 L522.71,186.14 L523.45,185.96 L524.19,185.78 L524.94,185.59 L525.68,185.41 L526.42,185.22 L527.16,185.03 L527.90,184.84 L528.65,184.65 L529.39,184.46 L530.13,184.27 L530.87,184.08 L531.61,183.88 L532.35,183.69 L533.10,183.49 L533.84,183.29 L534.58,183.09 L535.32,182.89 L536.06,182.69 L536.81,182.48 L537.55,182.28 L538.29,182.07 L539.03,181.86 L539.77,181.65 L540.51,181.44 L541.26,181.23 L542.00,181.01 L542.74,180.80 L543.48,180.58 L544.22,180.36 L544.97,180.14 L545.71,179.91 L546.45,179.69 L547.19,179.46 L547.93,179.23 L548.68,179.00 L549.42,178.77 L550.16,178.53 L550.90,178.30 L551.64,178.06 L552.38,177.82 L553.13,177.57 L553.87,177.33 L554.61,177.08 L555.35,176.83 L556.09,176.58 L556.84,176.32 L557.58,176.07 L558.32,175.81 L559.06,175.54 L559.80,175.28 L560.54,175.01 L561.29,174.74 L562.03,174.47 L562.77,174.19 L563.51,173.91 L564.25,173.63 L565.00,173.35 L565.74,173.06 L566.48,172.76 L567.22,172.47 L567.96,172.17 L568.52,171.94 L569.08,171.72 L569.63,171.48 L570.19,171.25 L570.75,171.02 L571.30,170.78 L571.86,170.54 L572.41,170.30 L572.97,170.05 L573.53,169.81 L574.08,169.56 L574.64,169.31 L575.20,169.05 L575.75,168.79 L576.31,168.53 L576.87,168.27 L577.42,168.01 L577.98,167.74 L578.53,167.47 L579.09,167.19 L579.65,166.91 L580.20,166.63 L580.76,166.35 L581.32,166.06 L581.87,165.77 L582.43,165.47 L582.99,165.17 L583.54,164.87 L584.10,164.56 L584.65,164.25 L585.21,163.94 L585.77,163.62 L586.32,163.29 L586.88,162.96 L587.44,162.63 L587.99,162.29 L588.55,161.95 L589.11,161.60 L589.66,161.25 L590.22,160.89 L590.78,160.52 L591.33,160.15 L591.89,159.77 L592.44,159.38 L593.00,158.99 L593.56,158.59 L594.11,158.19 L594.67,157.78 L595.23,157.36 L595.78,156.93 L596.34,156.49 L596.90,156.04 L597.45,155.59 L598.01,155.12 L598.56,154.65 L599.12,154.17 L599.68,153.67 L600.23,153.17 L600.79,152.65 L601.35,152.12 L601.90,151.58 L602.46,151.03 L603.02,150.46 L603.57,149.88 L604.13,149.28 L604.68,148.67 L605.24,148.04 L605.80,147.40 L606.35,146.73 L606.91,146.05 L607.47,145.35 L607.84,144.87 L608.24,144.33 L608.63,143.80 L609.02,143.27 L609.40,142.73 L609.76,142.20 L610.12,141.66 L610.48,141.13 L610.82,140.60 L611.16,140.06 L611.49,139.53 L611.81,139.00 L612.12,138.46 L612.43,137.93 L612.73,137.39 L613.03,136.86 L613.32,136.33 L613.60,135.80 L613.92,135.17 L614.23,134.55 L614.54,133.93 L614.83,133.31 L615.12,132.69 L615.40,132.07 L615.68,131.45 L615.95,130.84 L616.21,130.22 L616.46,129.60 L616.71,128.98 L616.95,128.37 L617.18,127.75 L617.41,127.14 L617.64,126.52 L617.85,125.91 L618.06,125.30 L618.27,124.68 L618.47,124.07 L618.67,123.46 L618.86,122.85 L619.04,122.24 L619.22,121.64 L619.40,121.03 L619.57,120.42 L619.74,119.82 L619.90,119.21 L620.06,118.61 L620.22,118.01 L620.37,117.41 L620.51,116.81 L620.66,116.21 L620.80,115.62 L620.93,115.02 L621.06,114.42 L621.19,113.83 L621.32,113.24 L621.44,112.64 L621.56,112.05 L621.68,111.46 L621.79,110.87 L621.90,110.28 L622.01,109.68 L622.11,109.09 L622.22,108.50 L622.31,107.91 L622.41,107.31 L622.51,106.72 L622.60,106.13 L622.69,105.53 L622.77,104.94 L622.86,104.34 L622.94,103.74 L623.02,103.14 L623.10,102.54 L623.18,101.94 L623.25,101.33 L623.33,100.73 L623.40,100.12 L623.47,99.51 L623.53,98.90 L623.60,98.29 L623.66,97.67 L623.72,97.05 L623.79,96.43 L623.84,95.80 L623.90,95.18 L623.96,94.55 L624.01,93.92 L624.07,93.28 L624.12,92.64 L624.17,92.00 L624.22,91.35 L624.27,90.70 L624.31,90.05 L624.36,89.39 L624.40,88.73 L624.45,88.07 L624.49,87.41 L624.53,86.74 L624.57,86.07 L624.61,85.40 L624.65,84.73 L624.68,84.05 L624.72,83.38 L624.75,82.70 L624.79,82.02 L624.82,81.35 L624.85,80.67 L624.88,79.99 L624.92,79.31 L624.95,78.63 L624.97,77.95 L625.00,77.27 L625.03,76.59 L625.06,75.91 L625.08,75.23 L625.11,74.56 L625.14,73.88 L625.16,73.21 L625.18,72.54 L625.21,71.87 L625.23,71.20 L625.25,70.53 L625.27,69.87 L625.29,69.21 L625.31,68.55 L625.33,67.90 L625.35,67.24 L625.37,66.60 L625.39,65.95 L625.41,65.31 L625.42,64.67 L625.44,64.04 L625.46,63.41 L625.47,62.79 L625.49,62.17 L625.51,61.56 L625.52,60.95 L625.53,60.34 L625.55,59.66 L625.57,58.98 L625.58,58.32 L625.60,57.66 L625.61,57.00 L625.62,56.36 L625.64,55.73 L625.65,55.10 L625.66,54.49 L625.68,53.88 L625.69,53.21 L625.70,52.56 L625.71,51.91 L625.73,51.28 L625.74,50.67 L625.75,50.01 L625.76,49.36 L625.77,48.73 L625.79,48.12 L625.80,47.48 L625.81,46.86 L625.82,46.22 L625.83,45.60 L625.84,45.30" stroke="#0000FF" stroke-width="3.0" transform="translate(0,0.3)" stroke-dasharray="4.4 4.28" stroke-dashoffset="0.00"/>
<path d="M625.84,45.30 L625.84,44.98 L625.85,44.36 L625.86,43.73 L625.87,43.10 L625.88,42.47 L625.88,41.85 L625.89,41.22 L625.90,40.59 L625.90,39.96 L625.91,39.33 L625.91,38.71 L625.92,38.08" stroke="#0000FF" stroke-width="3.0" transform="translate(0,0.3)" stroke-dasharray="4.4 4.28"/>
<path d="M98.66,392.81 L99.10,392.38 L99.54,391.96 L99.98,391.53 L100.42,391.11 L100.86,390.69 L101.30,390.27 L101.74,389.85 L102.18,389.43 L102.62,389.01 L103.06,388.59 L103.50,388.18 L103.95,387.76 L104.39,387.35 L104.83,386.93 L105.27,386.52 L105.71,386.11 L106.15,385.70 L106.59,385.29 L107.03,384.88 L107.47,384.47 L107.91,384.06 L108.35,383.65 L108.94,383.11 L109.53,382.57 L110.11,382.03 L110.70,381.49 L111.29,380.95 L111.88,380.41 L112.46,379.88 L113.05,379.34 L113.64,378.81 L114.23,378.27 L114.81,377.74 L115.40,377.21 L115.99,376.68 L116.58,376.15 L117.16,375.62 L117.75,375.09 L118.34,374.57 L118.93,374.04 L119.51,373.51 L120.10,372.99 L120.69,372.46 L121.28,371.94 L121.86,371.41 L122.45,370.89 L123.04,370.36 L123.63,369.84 L124.21,369.32 L124.80,368.80 L125.39,368.27 L125.98,367.75 L126.57,367.23 L127.15,366.71 L127.74,366.19 L128.33,365.66 L128.92,365.14 L129.50,364.62 L130.09,364.10 L130.68,363.58 L131.27,363.06 L131.85,362.54 L132.44,362.02 L133.03,361.49 L133.62,360.97 L134.20,360.45 L134.79,359.93 L135.38,359.40 L135.97,358.88 L136.55,358.36 L137.14,357.83 L137.73,357.31 L138.32,356.78 L138.90,356.26 L139.49,355.73 L140.08,355.21 L140.67,354.68 L141.25,354.15 L141.84,353.62 L142.43,353.09 L143.02,352.56 L143.60,352.03 L144.19,351.50 L144.78,350.97 L145.37,350.44 L145.95,349.90 L146.54,349.37 L147.13,348.83 L147.72,348.29 L148.30,347.76 L148.89,347.22 L149.48,346.68 L150.07,346.13 L150.65,345.59 L151.09,345.18 L151.53,344.78 L151.98,344.37 L152.42,343.96 L152.86,343.55 L153.30,343.13 L153.74,342.72 L154.18,342.31 L154.62,341.89 L155.06,341.48 L155.50,341.06 L155.94,340.65 L156.38,340.23 L156.82,339.81 L157.26,339.39 L157.70,338.97 L158.14,338.55 L158.58,338.13 L159.03,337.71 L159.47,337.28 L159.91,336.86 L160.35,336.43 L160.79,336.01 L161.23,335.58 L161.67,335.15 L162.11,334.72 L162.55,334.29 L162.99,333.86 L163.43,333.43 L163.87,332.99 L164.31,332.56 L164.75,332.12 L165.19,331.68 L165.64,331.24 L166.08,330.81 L166.52,330.36 L166.96,329.92 L167.40,329.48 L167.84,329.04 L168.28,328.59 L168.72,328.15 L169.16,327.70 L169.60,327.25 L170.04,326.80 L170.48,326.35 L170.92,325.90 L171.36,325.45 L171.80,325.00 L172.24,324.55 L172.69,324.09 L173.13,323.64 L173.57,323.18 L174.01,322.73 L174.45,322.27 L174.89,321.81 L175.33,321.35 L175.77,320.90 L176.21,320.44 L176.65,319.98 L177.09,319.51 L177.53,319.05 L177.97,318.59 L178.41,318.13 L178.85,317.67 L179.30,317.20 L179.74,316.74 L180.18,316.27 L180.62,315.81 L181.06,315.34 L181.50,314.88 L181.94,314.41 L182.38,313.94 L182.82,313.48 L183.26,313.01 L183.70,312.54 L184.14,312.07 L184.58,311.61 L185.02,311.14 L185.46,310.67 L185.90,310.20 L186.35,309.73 L186.79,309.26 L187.23,308.79 L187.67,308.32 L188.11,307.85 L188.55,307.38 L188.99,306.91 L189.43,306.44 L189.87,305.97 L190.31,305.50 L190.75,305.03 L191.19,304.56 L191.63,304.09 L192.07,303.62 L192.51,303.15 L192.95,302.68 L193.40,302.21 L193.84,301.74 L194.28,301.27 L194.72,300.80 L195.16,300.33 L195.60,299.86 L196.04,299.39 L196.48,298.92 L196.92,298.45 L197.36,297.98 L197.80,297.51 L198.24,297.05 L198.68,296.58 L199.12,296.11 L199.56,295.65 L200.01,295.19 L200.45,294.72 L200.89,294.26 L201.33,293.80 L201.77,293.34 L202.21,292.88 L202.65,292.42 L203.09,291.96 L203.53,291.50 L203.97,291.05 L204.41,290.59 L204.85,290.14 L205.29,289.69 L205.73,289.24 L206.17,288.79 L206.61,288.35 L207.06,287.90 L207.50,287.46 L207.94,287.02 L208.38,286.58 L208.82,286.14 L209.26,285.70 L209.70,285.27 L210.14,284.83 L210.58,284.40 L211.02,283.97 L211.46,283.55 L211.90,283.12 L212.34,282.70 L212.78,282.28 L213.22,281.87 L213.67,281.45 L214.11,281.04 L214.55,280.63 L214.99,280.22 L215.57,279.68 L216.16,279.15 L216.75,278.62 L217.34,278.10 L217.92,277.58 L218.51,277.06 L219.10,276.55 L219.69,276.05 L220.27,275.55 L220.86,275.06 L221.45,274.57 L222.04,274.09 L222.62,273.61 L223.21,273.14 L223.80,272.67 L224.39,272.21 L224.97,271.75 L225.56,271.30 L226.15,270.86 L226.74,270.41 L227.32,269.98 L227.91,269.54 L228.50,269.11 L229.09,268.69 L229.68,268.27 L230.26,267.86 L230.85,267.45 L231.44,267.04 L232.03,266.64 L232.61,266.25 L233.20,265.86 L233.79,265.47 L234.38,265.09 L234.96,264.71 L235.55,264.33 L236.14,263.96 L236.73,263.60 L237.31,263.24 L237.90,262.88 L238.49,262.53 L239.08,262.18 L239.66,261.83 L240.25,261.49 L240.84,261.15 L241.43,260.82 L242.01,260.49 L242.60,260.16 L243.19,259.84 L243.78,259.52 L244.36,259.21 L244.95,258.90 L245.54,258.59 L246.13,258.28 L246.71,257.98 L247.30,257.69 L247.89,257.39 L248.48,257.10 L249.06,256.82 L249.65,256.53 L250.24,256.25 L250.83,255.98 L251.41,255.70 L252.00,255.43 L252.59,255.17 L253.18,254.90 L253.76,254.64 L254.35,254.38 L254.94,254.13 L255.53,253.88 L256.11,253.63 L256.70,253.38 L257.29,253.14 L257.88,252.90 L258.46,252.66 L259.05,252.42 L259.64,252.19 L260.23,251.96 L260.81,251.73 L261.40,251.51 L261.99,251.29 L262.58,251.07 L263.16,250.85 L263.75,250.64 L264.34,250.42 L264.93,250.21 L265.51,250.01 L266.10,249.80 L266.69,249.60 L267.28,249.39 L267.86,249.20 L268.45,249.00 L269.04,248.80 L269.63,248.61 L270.21,248.42 L270.80,248.23 L271.39,248.04 L271.98,247.86 L272.56,247.68 L273.15,247.49 L273.74,247.31 L274.33,247.14 L274.91,246.96 L275.50,246.78 L276.09,246.61 L276.68,246.44 L277.26,246.27 L277.85,246.10 L278.44,245.93 L279.03,245.77 L279.61,245.60 L280.20,245.44 L280.79,245.28 L281.38,245.12 L281.96,244.96 L282.55,244.80 L283.14,244.64 L283.73,244.49 L284.31,244.33 L284.90,244.18 L285.49,244.02 L286.08,243.87 L286.66,243.72 L287.25,243.57 L287.84,243.42 L288.43,243.27 L289.01,243.12 L289.60,242.98 L290.19,242.83 L290.78,242.68 L291.36,242.54 L291.95,242.39 L292.54,242.25 L293.13,242.11 L293.71,241.97 L294.30,241.82 L294.89,241.68 L295.48,241.54 L296.07,241.40 L296.65,241.26 L297.24,241.13 L297.83,240.99 L298.42,240.85 L299.00,240.72 L299.59,240.58 L300.18,240.45 L300.77,240.31 L301.35,240.18 L301.94,240.05 L302.53,239.91 L303.12,239.78 L303.70,239.65 L304.29,239.52 L304.88,239.39 L305.47,239.26 L306.05,239.13 L306.64,239.01 L307.23,238.88 L307.82,238.75 L308.40,238.63 L308.99,238.50 L309.58,238.38 L310.17,238.25 L310.75,238.13 L311.34,238.01 L311.93,237.88 L312.66,237.73 L313.40,237.58 L314.13,237.43 L314.87,237.28 L315.60,237.13 L316.33,236.99 L317.07,236.84 L317.80,236.69 L318.54,236.55 L319.27,236.41 L320.01,236.26 L320.74,236.12 L321.48,235.98 L322.21,235.84 L322.94,235.70 L323.68,235.56 L324.41,235.42 L325.15,235.28 L325.88,235.15 L326.62,235.01 L327.35,234.88 L328.08,234.74 L328.82,234.61 L329.55,234.48 L330.29,234.35 L331.02,234.21 L331.76,234.08 L332.49,233.95 L333.23,233.83 L333.96,233.70 L334.69,233.57 L335.43,233.44 L336.16,233.32 L336.90,233.19 L337.63,233.07 L338.37,232.94 L339.10,232.82 L339.84,232.70 L340.57,232.57 L341.30,232.45 L342.04,232.33 L342.77,232.21 L343.51,232.09 L344.24,231.97 L344.98,231.85 L345.71,231.74 L346.44,231.62 L347.18,231.50 L347.91,231.39 L348.65,231.27 L349.38,231.16 L350.12,231.04 L350.85,230.93 L351.59,230.82 L352.32,230.70 L353.05,230.59 L353.79,230.48 L354.52,230.37 L355.26,230.26 L355.99,230.15 L356.73,230.04 L357.46,229.93 L358.20,229.82 L358.93,229.71 L359.66,229.60 L360.40,229.50 L361.13,229.39 L361.87,229.28 L362.60,229.18 L363.34,229.07 L364.07,228.97 L364.81,228.86 L365.54,228.76 L366.27,228.66 L367.01,228.55 L367.74,228.45 L368.48,228.35 L369.21,228.24 L369.95,228.14 L370.68,228.04 L371.41,227.94 L372.15,227.84 L372.88,227.74 L373.62,227.64 L374.35,227.54 L375.09,227.44 L375.82,227.34 L376.56,227.24 L377.29,227.15 L378.02,227.05 L378.76,226.95 L379.49,226.86 L380.23,226.76 L380.96,226.66 L381.70,226.57 L382.43,226.47 L383.17,226.38 L383.90,226.28 L384.63,226.19 L385.37,226.09 L386.10,226.00 L386.84,225.91 L387.57,225.82 L388.31,225.72 L389.04,225.63 L389.77,225.54 L390.51,225.45 L391.24,225.36 L391.98,225.27 L392.71,225.18 L393.45,225.09 L394.18,225.00 L394.92,224.91 L395.65,224.82 L396.38,224.73 L397.12,224.64 L397.85,224.56 L398.59,224.47 L399.32,224.38 L400.06,224.29 L400.79,224.21 L401.53,224.12 L402.26,224.04 L402.99,223.95 L403.73,223.87 L404.46,223.78 L405.20,223.70 L405.93,223.61 L406.67,223.53 L407.40,223.44 L408.13,223.36 L408.87,223.28 L409.60,223.20 L410.34,223.11 L411.07,223.03 L411.81,222.95 L412.54,222.87 L413.28,222.79 L414.01,222.71 L414.74,222.63 L415.48,222.55 L416.21,222.47 L416.95,222.39 L417.68,222.31 L418.42,222.23 L419.15,222.15 L419.89,222.07 L420.62,222.00 L421.35,221.92 L422.09,221.84 L422.82,221.76 L423.56,221.69 L424.29,221.61 L425.03,221.53 L425.76,221.46 L426.49,221.38 L427.23,221.31 L427.96,221.23 L428.70,221.16 L429.43,221.08 L430.17,221.01 L430.90,220.93 L431.64,220.86 L432.37,220.79 L433.10,220.71 L433.84,220.64 L434.57,220.57 L435.31,220.50 L436.04,220.42 L436.78,220.35 L437.51,220.28 L438.25,220.21 L438.98,220.14 L439.71,220.07 L440.45,220.00 L441.18,219.93 L441.92,219.86 L442.65,219.79 L443.39,219.72 L444.12,219.65 L444.85,219.58 L445.59,219.51 L446.32,219.44 L447.06,219.37 L447.79,219.30 L448.53,219.23 L449.26,219.17 L450.00,219.10 L450.73,219.03 L451.46,218.97 L452.20,218.90 L452.93,218.83 L453.67,218.77 L454.40,218.70 L455.14,218.63 L455.87,218.57 L456.61,218.50 L457.34,218.44 L458.07,218.37 L458.81,218.31 L459.54,218.24 L460.28,218.18 L461.01,218.11 L461.75,218.05 L462.48,217.99 L463.21,217.92 L463.95,217.86 L464.68,217.80 L465.42,217.73 L466.15,217.67 L466.89,217.61 L467.62,217.54 L468.36,217.48 L469.09,217.42 L469.82,217.36 L470.56,217.30 L471.29,217.24 L472.03,217.17 L472.76,217.11 L473.50,217.05 L474.23,216.99 L474.97,216.93 L475.70,216.87 L476.43,216.81 L477.17,216.75 L477.90,216.69 L478.64,216.63 L479.37,216.57 L480.11,216.51 L480.84,216.45 L481.57,216.39 L482.31,216.33 L483.04,216.28 L483.78,216.22 L484.51,216.16 L485.25,216.10 L485.98,216.04 L486.72,215.99 L487.45,215.93 L488.18,215.87 L488.92,215.81 L489.65,215.76 L490.39,215.70 L491.12,215.64 L491.86,215.58 L492.59,215.53 L493.33,215.47 L494.06,215.41 L494.79,215.36 L495.53,215.30 L496.26,215.25 L497.00,215.19 L497.73,215.13 L498.47,215.08 L499.20,215.02 L499.94,214.97 L500.67,214.91 L501.40,214.86 L502.14,214.80 L502.87,214.75 L503.61,214.69 L504.34,214.64 L505.08,214.58 L505.81,214.53 L506.54,214.47 L507.28,214.42 L508.01,214.37 L508.75,214.31 L509.48,214.26 L510.22,214.20 L510.95,214.15 L511.69,214.10 L512.42,214.04 L513.15,213.99 L513.89,213.94 L514.62,213.88 L515.36,213.83 L516.09,213.78 L516.83,213.73 L517.56,213.67 L518.30,213.62 L519.03,213.57 L519.76,213.52 L520.50,213.46 L521.23,213.41 L521.97,213.36 L522.70,213.31 L523.44,213.25 L524.17,213.20 L524.90,213.15 L525.64,213.10 L526.37,213.05 L527.11,212.99 L527.84,212.94 L528.58,212.89 L529.31,212.84 L530.05,212.79 L530.78,212.74 L531.51,212.69 L532.25,212.63 L532.98,212.58 L533.72,212.53 L534.45,212.48 L535.19,212.43 L535.92,212.38 L536.66,212.33 L537.39,212.28 L538.12,212.23 L538.86,212.18 L539.59,212.12 L540.33,212.07 L541.06,212.02 L541.80,211.97 L542.53,211.92 L543.26,211.87 L544.00,211.82 L544.73,211.77 L545.47,211.72 L546.20,211.67 L546.94,211.62 L547.67,211.57 L548.41,211.52 L549.14,211.47 L549.87,211.42 L550.61,211.37 L551.34,211.32 L552.08,211.28 L552.81,211.23 L553.55,211.18 L554.28,211.13 L555.02,211.08 L555.75,211.03 L556.48,210.98 L557.22,210.93 L557.95,210.88 L558.69,210.83 L559.42,210.79 L560.16,210.74 L560.89,210.69 L561.62,210.64 L562.36,210.59 L563.09,210.54 L563.83,210.50 L564.56,210.45 L565.30,210.40 L566.03,210.35 L566.77,210.31 L567.50,210.26 L568.23,210.21 L568.97,210.16 L569.70,210.12 L570.44,210.07 L571.17,210.02 L571.91,209.97 L572.64,209.93 L573.38,209.88 L574.11,209.83 L574.84,209.79 L575.58,209.74 L576.31,209.69 L577.05,209.65 L577.78,209.60 L578.52,209.55 L579.25,209.51 L579.98,209.46 L580.72,209.42 L581.45,209.37 L582.19,209.32 L582.92,209.28 L583.66,209.23 L584.39,209.19 L585.13,209.14 L585.86,209.10 L586.59,209.05 L587.33,209.01 L588.06,208.96 L588.80,208.92 L589.53,208.87 L590.27,208.83 L591.00,208.78 L591.74,208.74 L592.47,208.69 L593.20,208.65 L593.94,208.60 L594.67,208.56 L595.41,208.52 L596.14,208.47 L596.88,208.43 L597.61,208.38 L598.34,208.34 L599.08,208.30 L599.81,208.25 L600.55,208.21 L601.28,208.17 L602.02,208.12 L602.75,208.08 L603.49,208.04 L604.22,207.99 L604.95,207.95 L605.69,207.91 L606.42,207.87 L607.16,207.82 L607.89,207.78 L608.63,207.74 L609.36,207.70 L610.10,207.66 L610.83,207.61 L611.56,207.57 L612.30,207.53 L613.03,207.49 L613.77,207.45 L614.50,207.41 L615.24,207.37 L615.97,207.32 L616.70,207.28 L617.44,207.24 L618.17,207.20 L618.91,207.16 L619.64,207.12 L620.38,207.08 L621.11,207.04 L621.85,207.00 L622.58,206.96 L623.31,206.92 L624.05,206.88 L624.78,206.84 L625.52,206.80 L626.25,206.76 L626.99,206.72 L627.72,206.68 L628.46,206.64 L629.19,206.61 L629.92,206.57 L630.66,206.53 L631.39,206.49 L632.13,206.45 L632.86,206.41 L633.60,206.37 L634.33,206.34 L635.06,206.30 L635.80,206.26 L636.53,206.22 L637.27,206.18 L638.00,206.15 L638.74,206.11 L639.47,206.07 L640.21,206.04 L640.94,206.00 L641.67,205.96 L642.41,205.92 L643.14,205.89 L643.88,205.85 L644.61,205.82 L645.35,205.78 L646.08,205.74 L646.82,205.71 L647.55,205.67 L648.28,205.64 L649.02,205.60 L649.75,205.56 L650.49,205.53 L651.22,205.49 L651.96,205.46 L652.69,205.42 L653.43,205.39 L654.16,205.35 L654.89,205.32 L655.63,205.29 L656.36,205.25 L657.10,205.22 L657.83,205.18 L658.57,205.15 L659.30,205.12 L660.03,205.08 L660.77,205.05 L661.50,205.02 L662.24,204.98 L662.97,204.95 L663.71,204.92 L664.44,204.88 L665.18,204.85 L665.91,204.82 L666.64,204.79 L667.38,204.75 L668.11,204.72 L668.85,204.69 L669.58,204.66 L670.32,204.63 L671.05,204.60 L671.20,204.59" stroke="#FF0000" stroke-width="3.0" stroke-dasharray="4.4 4.28" stroke-dashoffset="0.00"/>
<path d="M671.20,204.59 L671.79,204.56 L672.52,204.53 L673.25,204.50 L673.99,204.47 L674.72,204.44 L675.46,204.41 L676.19,204.38 L676.93,204.35 L677.66,204.32 L678.39,204.29 L679.13,204.26 L679.86,204.23 L680.60,204.20 L681.33,204.17 L682.07,204.14 L682.80,204.11 L683.54,204.08 L684.27,204.05 L685.00,204.03 L685.74,204.00 L686.03,203.99" stroke="#FF0000" stroke-width="3.0" stroke-dasharray="4.4 4.28"/>
</g>
<path d="M99.57,402.9V398.90M99.57,38.3V42.60M125.63,402.9V398.90M125.63,38.3V42.60M151.70,402.9V396.00M151.70,38.3V45.30M177.76,402.9V398.90M177.76,38.3V42.60M203.83,402.9V398.90M203.83,38.3V42.60M229.89,402.9V398.90M229.89,38.3V42.60M255.96,402.9V398.90M255.96,38.3V42.60M282.02,402.9V396.00M282.02,38.3V45.30M308.09,402.9V398.90M308.09,38.3V42.60M334.15,402.9V398.90M334.15,38.3V42.60M360.22,402.9V398.90M360.22,38.3V42.60M386.28,402.9V398.90M386.28,38.3V42.60M412.35,402.9V396.00M412.35,38.3V45.30M438.42,402.9V398.90M438.42,38.3V42.60M464.48,402.9V398.90M464.48,38.3V42.60M490.55,402.9V398.90M490.55,38.3V42.60M516.61,402.9V398.90M516.61,38.3V42.60M542.67,402.9V396.00M542.67,38.3V45.30M568.74,402.9V398.90M568.74,38.3V42.60M594.81,402.9V398.90M594.81,38.3V42.60M620.87,402.9V398.90M620.87,38.3V42.60M646.93,402.9V398.90M646.93,38.3V42.60M673.00,402.9V396.00M673.00,38.3V45.30M93.3,402.20H102.80M684.5,402.20H675.00M93.3,385.94H97.80M684.5,385.94H680.00M93.3,376.44H97.80M684.5,376.44H680.00M93.3,369.69H97.80M684.5,369.69H680.00M93.3,364.46H97.80M684.5,364.46H680.00M93.3,360.18H97.80M684.5,360.18H680.00M93.3,356.56H97.80M684.5,356.56H680.00M93.3,353.43H97.80M684.5,353.43H680.00M93.3,350.67H97.80M684.5,350.67H680.00M93.3,348.20H102.80M684.5,348.20H675.00M93.3,331.94H97.80M684.5,331.94H680.00M93.3,322.44H97.80M684.5,322.44H680.00M93.3,315.69H97.80M684.5,315.69H680.00M93.3,310.46H97.80M684.5,310.46H680.00M93.3,306.18H97.80M684.5,306.18H680.00M93.3,302.56H97.80M684.5,302.56H680.00M93.3,299.43H97.80M684.5,299.43H680.00M93.3,296.67H97.80M684.5,296.67H680.00M93.3,294.20H102.80M684.5,294.20H675.00M93.3,277.94H97.80M684.5,277.94H680.00M93.3,268.44H97.80M684.5,268.44H680.00M93.3,261.69H97.80M684.5,261.69H680.00M93.3,256.46H97.80M684.5,256.46H680.00M93.3,252.18H97.80M684.5,252.18H680.00M93.3,248.56H97.80M684.5,248.56H680.00M93.3,245.43H97.80M684.5,245.43H680.00M93.3,242.67H97.80M684.5,242.67H680.00M93.3,240.20H102.80M684.5,240.20H675.00M93.3,223.94H97.80M684.5,223.94H680.00M93.3,214.44H97.80M684.5,214.44H680.00M93.3,207.69H97.80M684.5,207.69H680.00M93.3,202.46H97.80M684.5,202.46H680.00M93.3,198.18H97.80M684.5,198.18H680.00M93.3,194.56H97.80M684.5,194.56H680.00M93.3,191.43H97.80M684.5,191.43H680.00M93.3,188.67H97.80M684.5,188.67H680.00M93.3,186.20H102.80M684.5,186.20H675.00M93.3,169.94H97.80M684.5,169.94H680.00M93.3,160.44H97.80M684.5,160.44H680.00M93.3,153.69H97.80M684.5,153.69H680.00M93.3,148.46H97.80M684.5,148.46H680.00M93.3,144.18H97.80M684.5,144.18H680.00M93.3,140.56H97.80M684.5,140.56H680.00M93.3,137.43H97.80M684.5,137.43H680.00M93.3,134.67H97.80M684.5,134.67H680.00M93.3,132.20H102.80M684.5,132.20H675.00M93.3,115.94H97.80M684.5,115.94H680.00M93.3,106.44H97.80M684.5,106.44H680.00M93.3,99.69H97.80M684.5,99.69H680.00M93.3,94.46H97.80M684.5,94.46H680.00M93.3,90.18H97.80M684.5,90.18H680.00M93.3,86.56H97.80M684.5,86.56H680.00M93.3,83.43H97.80M684.5,83.43H680.00M93.3,80.67H97.80M684.5,80.67H680.00M93.3,78.20H102.80M684.5,78.20H675.00M93.3,61.94H97.80M684.5,61.94H680.00M93.3,52.44H97.80M684.5,52.44H680.00M93.3,45.69H97.80M684.5,45.69H680.00M93.3,40.46H97.80M684.5,40.46H680.00" stroke="#000" stroke-width="1.8" fill="none"/>
<rect x="93.3" y="38.3" width="591.2" height="364.59999999999997" stroke="#000" stroke-width="2" fill="none"/>
<g font-family='"Liberation Serif", serif' fill="#000" stroke="#000" stroke-width="0.2">
<g transform="translate(293.0,21.7) skewX(-10)"><text x="-0.97" y="0" font-size="22.5">g</text></g>
<rect x="309.80" y="12.30" width="12.80" height="1.3" stroke="none"/><rect x="309.80" y="17.00" width="12.80" height="1.3" stroke="none"/>
<text x="326.27" y="21.70" font-size="24.5">0</text>
<text x="339.99" y="21.70" font-size="24.5">.</text>
<text x="344.83" y="21.70" font-size="24.5">3</text>
<text x="359.87" y="21.70" font-size="24.5">,</text>
<text x="372.37" y="21.70" font-size="24.5" font-style="italic">v</text>
<rect x="387.80" y="12.30" width="12.80" height="1.3" stroke="none"/><rect x="387.80" y="17.00" width="12.80" height="1.3" stroke="none"/>
<text x="405.65" y="21.70" font-size="24.5">1</text>
<text x="416.47" y="21.70" font-size="24.5">0</text>
<text x="429.58" y="12.15" font-size="16.0">9</text>
<g transform="translate(440.40,21.70) scale(1.07,1.0)"><text x="-1.00" y="0" font-size="24.5">G</text></g>
<g transform="translate(456.90,21.70) scale(1.14,1.0)"><text x="-0.96" y="0" font-size="24.5">e</text></g>
<text x="468.42" y="21.70" font-size="24.5">V</text>
<text x="139.43" y="425.80" font-size="24.4">2</text>
<text x="151.63" y="425.8" font-size="24.4">0</text>
<text x="269.77" y="425.80" font-size="24.4">2</text>
<text x="281.97" y="425.8" font-size="24.4">5</text>
<text x="400.03" y="425.80" font-size="24.4">3</text>
<text x="412.23" y="425.8" font-size="24.4">0</text>
<text x="530.37" y="425.80" font-size="24.4">3</text>
<text x="542.57" y="425.8" font-size="24.4">5</text>
<text x="661.03" y="425.80" font-size="24.4">4</text>
<text x="673.23" y="425.8" font-size="24.4">0</text>
<text x="75.27" y="191.70" font-size="24.4">1</text>
<text x="53.56" y="85.70" font-size="24.4">1</text>
<text x="64.37" y="85.70" font-size="24.4">0</text>
<text x="77.23" y="76.80" font-size="17.5">2</text>
<text x="42.96" y="302.00" font-size="24.4">1</text>
<text x="55.53" y="302.00" font-size="24.4">0</text>
<rect x="68" y="287.50" width="9.2" height="1.4" stroke="none"/>
<text x="77.23" y="292.50" font-size="17.5">2</text>
<text x="42.96" y="410.30" font-size="24.4">1</text>
<text x="55.53" y="410.30" font-size="24.4">0</text>
<rect x="68" y="395.80" width="9.2" height="1.4" stroke="none"/>
<text x="77.66" y="400.80" font-size="17.5">4</text>
<path d="M377.90,126.00L372.20,136.20L377.90,146.10" fill="none" stroke="#000" stroke-width="1.15"/>
<g transform="translate(380.20,143.00) scale(1.04,0.915)"><text x="-0.56" y="0" font-size="24.6" font-style="italic">ϕ</text></g>
<path d="M383.00,124.50L385.90,120.70L387.10,120.70L390.30,124.50L389.60,124.50L386.50,122.41L383.70,124.50Z" fill="#000"/>
<text x="393.03" y="128.50" font-size="17.5">2</text>
<path d="M405.00,126.00L410.90,136.20L405.00,146.10" fill="none" stroke="#000" stroke-width="1.15"/>
<rect x="417.20" y="133.60" width="12.80" height="1.3" stroke="none"/><rect x="417.20" y="138.40" width="12.80" height="1.3" stroke="none"/>
<text x="435.26" y="143.00" font-size="24.6" font-style="italic">H</text>
<text x="452.13" y="133.00" font-size="17.5">2</text>
<path d="M462.40,146.10L469.50,125.90" stroke="#000" stroke-width="1.0"/>
<text x="470.50" y="143.00" font-size="24.6" font-style="italic">λ</text>
<text x="481.83" y="133.80" font-size="17.5">2</text>
<path d="M490.30,135.60L494.00,121.60" stroke="#000" stroke-width="0.9"/>
<text x="495.13" y="133.80" font-size="17.5">3</text>
<text x="380.48" y="461.60" font-size="24.6" font-style="italic">N</text>
<g transform="translate(25.9,257.4) rotate(-90)"><path d="M5.8,-16.6L0,-6.4L5.8,3.9" fill="none" stroke="#000" stroke-width="1.15"/><g transform="translate(7.80,0.00) scale(1.04,0.915)"><text x="-0.56" y="0" font-size="24.6" font-style="italic">ϕ</text></g><path d="M10.70,-18.10L13.50,-22.20L14.70,-22.20L17.50,-18.10L16.80,-18.10L14.10,-20.36L11.40,-18.10Z" fill="#000"/><text x="20.62" y="-13.70" font-size="17.7">2</text><path d="M33.1,-16.6L39,-6.4L33.1,3.9" fill="none" stroke="#000" stroke-width="1.15"/><path d="M40.50,3.40L47.20,-16.60" stroke="#000" stroke-width="1.0"/><text x="48.36" y="0.00" font-size="24.6" font-style="italic">H</text><text x="63.92" y="-9.80" font-size="17.7">2</text></g>
<g transform="translate(230.5,383.9) rotate(-90)"><text x="0.18" y="0.00" font-size="24.6" font-style="italic">N</text><rect x="22.80" y="-10.00" width="11.90" height="1.4" stroke="none"/><rect x="22.80" y="-4.40" width="11.90" height="1.4" stroke="none"/><text x="40.58" y="0.00" font-size="24.6" font-style="italic">N</text><text x="56.60" y="3.50" font-size="16.6">d</text><text x="64.90" y="3.5" font-size="16.6">s</text></g>
<g transform="translate(615.8,384.4) rotate(-90)"><text x="0.18" y="0.00" font-size="24.6" font-style="italic">N</text><rect x="22.70" y="-9.40" width="12.50" height="1.4" stroke="none"/><rect x="22.70" y="-4.50" width="12.50" height="1.4" stroke="none"/><text x="40.58" y="0.00" font-size="24.6" font-style="italic">N</text><text x="57.54" y="3.30" font-size="16.6">t</text><text x="62.15" y="3.3" font-size="16.6">h</text></g>
</g>
</svg></body></html>
